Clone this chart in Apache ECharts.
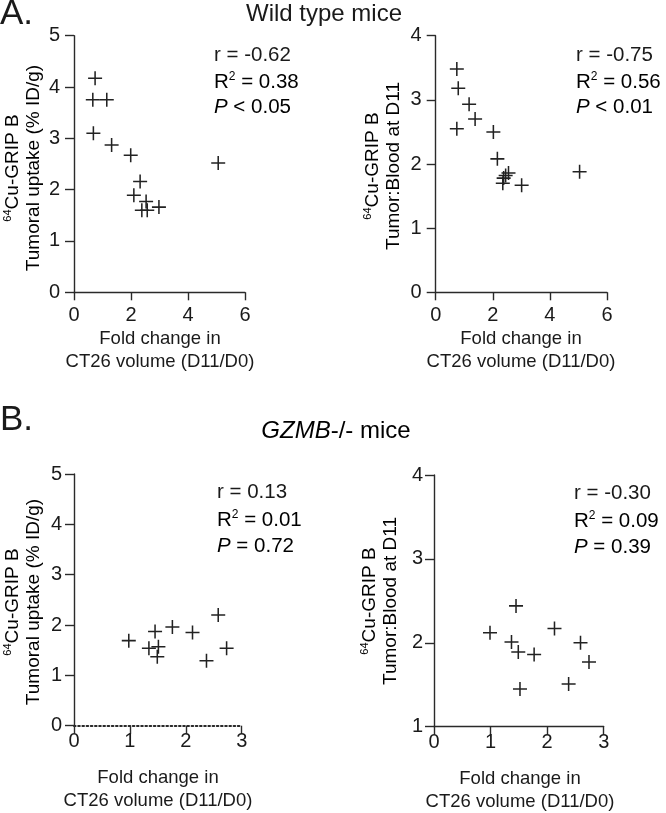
<!DOCTYPE html>
<html><head><meta charset="utf-8">
<script src="https://cdn.jsdelivr.net/npm/echarts@6/dist/echarts.min.js"></script>
<style>html,body{margin:0;padding:0;background:#fff}#c{width:666px;height:813px}</style>
</head><body><div id="c"></div>
<script>
// Wild type mice
const wtFoldUptake = [0.74,0.66,1.15,0.68,1.32,1.99,2.32,2.10,2.53,2.38,2.57,2.98,5.06];
const wtUptake     = [4.17,3.75,3.75,3.10,2.87,2.67,2.16,1.89,1.77,1.60,1.60,1.66,2.52];
const wtFoldRatio  = [0.74,0.79,1.17,1.38,0.74,2.02,2.16,2.55,2.45,2.38,2.35,3.01,5.04];
const wtRatio      = [3.48,3.18,2.93,2.70,2.55,2.50,2.08,1.86,1.82,1.78,1.70,1.67,1.88];
// GZMB-/- mice
const gzFoldUptake = [0.98,1.45,1.76,2.12,2.58,1.34,1.51,1.49,2.37,2.73];
const gzUptake     = [1.69,1.87,1.96,1.85,2.20,1.54,1.57,1.37,1.29,1.54];
const gzFoldRatio  = [0.99,1.45,1.37,1.49,1.77,2.13,2.59,2.74,1.52,2.38];
const gzRatio      = [2.12,2.44,2.01,1.89,1.86,2.17,2.00,1.77,1.45,1.51];
// tick settings
const wtXTicks = {min:0,max:6,interval:2};
const gzXTicks = {min:0,max:3,interval:1};
const uptakeTicks = {min:0,max:5,interval:1};
const wtRatioTicks = {min:0,max:4,interval:1};
const gzRatioTicks = {min:1,max:4,interval:1};
// annotations
const statsText = [
  ['r = -0.62','0.38','<','0.05'],
  ['r = -0.75','0.56','<','0.01'],
  ['r = 0.13','0.01','=','0.72'],
  ['r = -0.30','0.09','=','0.39']
];

const FF = '"Liberation Sans", Arial, Helvetica, sans-serif';
const TXT = '#1a1a1a';
const AX = '#2a2a2a';
const zip = (a,b)=>a.map((v,i)=>[v,b[i]]);

const grids = [
  {left:74, top:35.7, width:171, height:256.6},
  {left:435.7, top:35.7, width:171.3, height:256.6},
  {left:74, top:474, width:167.7, height:251.7},
  {left:434, top:475, width:169.7, height:251.7}
];
function xAxis(i, t, dotted, labMargin){
  return {gridIndex:i, type:'value', min:t.min, max:t.max, interval:t.interval,
    axisLine:{show:true, onZero:false, lineStyle:{color:AX, width: dotted?2:1.4, type: dotted?[1.6,2.6]:'solid'}},
    axisTick:{show:true, length:8, lineStyle:{color:AX, width:1.4}},
    splitLine:{show:false},
    axisLabel:{fontSize:20, color:TXT, fontFamily:FF, margin:labMargin}};
}
function yAxis(i, t, labMargin){
  return {gridIndex:i, type:'value', min:t.min, max:t.max, interval:t.interval,
    axisLine:{show:true, onZero:false, lineStyle:{color:AX, width:1.4}},
    axisTick:{show:true, length:9, lineStyle:{color:AX, width:1.4}},
    splitLine:{show:false},
    axisLabel:{fontSize:20, color:TXT, fontFamily:FF, margin:labMargin}};
}
const plusPath = 'path://M4.45,0H5.55V4.45H10V5.55H5.55V10H4.45V5.55H0V4.45H4.45Z';
function sc(i, data){
  return {type:'scatter', xAxisIndex:i, yAxisIndex:i, data:data, symbol:plusPath, symbolSize:14,
    itemStyle:{color:'#222', opacity:1}, silent:true};
}
const richBase = {
  t:{fontSize:20.5, fontFamily:FF, color:TXT},
  s:{fontSize:12, fontFamily:FF, color:TXT, verticalAlign:'top', padding:[0,0,10,0]},
  i:{fontSize:20.5, fontFamily:FF, color:TXT, fontStyle:'italic'}
};
const graphics = [];
function txt(x,y,text,opts){
  graphics.push({type:'text', x:x, y:y, silent:true,
    style:Object.assign({text:text, fontFamily:FF, fill:TXT, fontSize:20.5, align:'left', verticalAlign:'middle'}, opts||{})});
}
// panel labels & titles
txt(0,14,'A.',{fontSize:35});
txt(324,14,'Wild type mice',{fontSize:24, align:'center'});
txt(0,420,'B.',{fontSize:35});
graphics.push({type:'text', x:336, y:431, silent:true, style:{
  text:'{i|GZMB}{t|-/- mice}', align:'center', verticalAlign:'middle',
  rich:{i:{fontSize:24,fontFamily:FF,fontStyle:'italic',color:TXT}, t:{fontSize:24,fontFamily:FF,color:TXT}}}});
// stats
const statPos = [[214,[55,82,107]],[576,[55,82,107]],[217,[492,520,546]],[574,[493,521,547]]];
statsText.forEach((s,k)=>{
  const [x,ys] = statPos[k];
  txt(x,ys[0],s[0]);
  graphics.push({type:'text', x:x, y:ys[1], silent:true, style:{text:'{t|R}{s|2}{t| = '+s[1]+'}', align:'left', verticalAlign:'middle', rich:richBase}});
  graphics.push({type:'text', x:x, y:ys[2], silent:true, style:{text:'{i|P}{t| '+s[2]+' '+s[3]+'}', align:'left', verticalAlign:'middle', rich:richBase}});
});
// y axis titles (rotated)
function yTitle(x,y,line2){
  graphics.push({type:'text', x:x, y:y, rotation:Math.PI/2, silent:true, style:{
    text:'{s|64}{t|Cu-GRIP B}\n{t|'+line2+'}', align:'center', verticalAlign:'middle', lineHeight:21,
    rich:{t:{fontSize:19, fontFamily:FF, color:TXT, lineHeight:21}, s:{fontSize:11, fontFamily:FF, color:TXT, verticalAlign:'top', lineHeight:21, padding:[0,0,8,0]}}}});
}
yTitle(23,168,'Tumoral uptake (% ID/g)');
yTitle(383,166,'Tumor:Blood at D11');
yTitle(23,602,'Tumoral uptake (% ID/g)');
yTitle(380,601,'Tumor:Blood at D11');
// x axis titles
function xTitle(cx,y1,y2){
  txt(cx,y1,'Fold change in',{fontSize:18.5, align:'center'});
  txt(cx,y2,'CT26 volume (D11/D0)',{fontSize:18.5, align:'center'});
}
xTitle(160,339,362);
xTitle(521,339,362);
xTitle(158,778,801);
xTitle(520,779,802);

const option = {
  animation:false,
  backgroundColor:'#fff',
  grid:grids.map(g=>Object.assign({containLabel:false}, g)),
  xAxis:[xAxis(0,wtXTicks,false,13), xAxis(1,wtXTicks,false,13), xAxis(2,gzXTicks,true,6), xAxis(3,gzXTicks,false,6)],
  yAxis:[yAxis(0,uptakeTicks,14), yAxis(1,wtRatioTicks,14), yAxis(2,uptakeTicks,12), yAxis(3,gzRatioTicks,11)],
  series:[sc(0,zip(wtFoldUptake,wtUptake)), sc(1,zip(wtFoldRatio,wtRatio)), sc(2,zip(gzFoldUptake,gzUptake)), sc(3,zip(gzFoldRatio,gzRatio))],
  graphic:graphics
};
echarts.init(document.getElementById('c'),null,{renderer:'canvas'}).setOption(option);
</script></body></html>
